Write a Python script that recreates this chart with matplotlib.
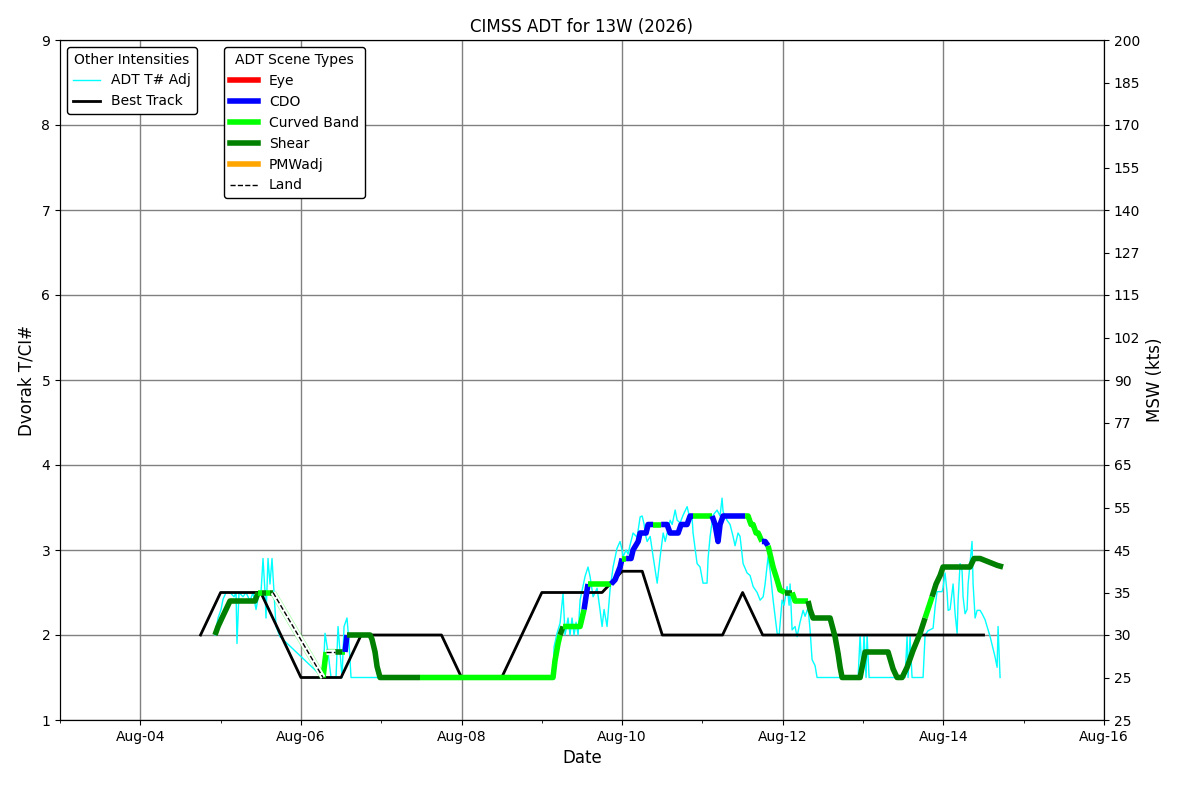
import matplotlib
matplotlib.use("Agg")
import matplotlib.pyplot as plt
import matplotlib.dates as mdates
from matplotlib.lines import Line2D
from datetime import datetime
import numpy as np

title = "CIMSS ADT for 13W (2026)"

# Best track (day of Aug 2026, T#)
bt_day = [4.75, 5.0, 5.25, 5.5, 5.75, 6.0, 6.25, 6.5, 6.75, 7.0, 7.25, 7.5, 7.75,
          8.0, 8.25, 8.5, 8.75, 9.0, 9.25, 9.5, 9.75, 10.0, 10.25, 10.5, 10.75,
          11.0, 11.25, 11.5, 11.75, 12.0, 12.25, 12.5, 12.75, 13.0, 13.25, 13.5,
          13.75, 14.0, 14.25, 14.5]
bt_ci = [2.0, 2.5, 2.5, 2.5, 2.0, 1.5, 1.5, 1.5, 2.0, 2.0, 2.0, 2.0, 2.0,
         1.5, 1.5, 1.5, 2.0, 2.5, 2.5, 2.5, 2.5, 2.75, 2.75, 2.0, 2.0,
         2.0, 2.0, 2.5, 2.0, 2.0, 2.0, 2.0, 2.0, 2.0, 2.0, 2.0,
         2.0, 2.0, 2.0, 2.0]

# ADT CI# (day of Aug 2026), scene of the segment ending at each point
adt_day = [4.930, 4.968, 5.017, 5.067, 5.117, 5.428, 5.468, 5.516, 5.565, 5.615,
           5.653, 6.275, 6.313, 6.425, 6.512, 6.549, 6.574, 6.861, 6.885, 6.923,
           6.948, 6.985, 7.483, 9.139, 9.164, 9.202, 9.227, 9.264, 9.476, 9.501,
           9.526, 9.550, 9.575, 9.862, 9.912, 9.974, 9.999, 10.049, 10.111, 10.136,
           10.199, 10.224, 10.298, 10.323, 10.386, 10.486, 10.559, 10.597, 10.697, 10.734,
           10.808, 10.846, 10.883, 11.120, 11.157, 11.194, 11.219, 11.257, 11.531, 11.568,
           11.605, 11.630, 11.668, 11.694, 11.740, 11.780, 11.817, 11.879, 11.929, 11.966,
           12.029, 12.116, 12.153, 12.315, 12.340, 12.377, 12.589, 12.651, 12.689, 12.714,
           12.739, 12.963, 13.025, 13.311, 13.374, 13.423, 13.486, 13.548, 13.623, 13.710,
           13.772, 13.859, 13.909, 13.959, 13.996, 14.332, 14.382, 14.457, 14.669, 14.743]
adt_ci = [2.0, 2.1, 2.2, 2.3, 2.4, 2.4, 2.5, 2.5, 2.5, 2.5,
          2.5, 1.5, 1.8, 1.8, 1.8, 1.8, 2.0, 2.0, 1.95, 1.8,
          1.63, 1.5, 1.5, 1.5, 1.7, 1.9, 2.0, 2.1, 2.1, 2.2,
          2.3, 2.45, 2.6, 2.6, 2.65, 2.8, 2.9, 2.9, 2.9, 3.0,
          3.1, 3.2, 3.2, 3.3, 3.3, 3.3, 3.3, 3.2, 3.2, 3.3,
          3.3, 3.4, 3.4, 3.4, 3.3, 3.1, 3.3, 3.4, 3.4, 3.4,
          3.3, 3.3, 3.2, 3.2, 3.1, 3.1, 3.05, 2.8, 2.65, 2.53,
          2.5, 2.5, 2.4, 2.4, 2.3, 2.2, 2.2, 1.98, 1.78, 1.62,
          1.5, 1.5, 1.8, 1.8, 1.6, 1.5, 1.5, 1.62, 1.82, 2.02,
          2.2, 2.45, 2.6, 2.7, 2.8, 2.8, 2.9, 2.9, 2.82, 2.8]
adt_scene = ["Shear", "Shear", "Shear", "Shear", "Shear", "Shear", "Shear", "Curved Band", "Shear", "Curved Band",
             "Shear", "Land", "Curved Band", "Land", "Shear", "Curved Band", "CDO", "Shear", "Shear", "Shear",
             "Shear", "Shear", "Shear", "Curved Band", "Curved Band", "Curved Band", "Curved Band", "Shear", "Curved Band", "Curved Band",
             "Curved Band", "CDO", "CDO", "Curved Band", "CDO", "CDO", "CDO", "Curved Band", "CDO", "CDO",
             "CDO", "CDO", "CDO", "CDO", "CDO", "Curved Band", "CDO", "CDO", "CDO", "CDO",
             "CDO", "CDO", "CDO", "Curved Band", "CDO", "CDO", "CDO", "CDO", "CDO", "Curved Band",
             "Curved Band", "Curved Band", "Curved Band", "Curved Band", "Curved Band", "CDO", "CDO", "Curved Band", "Curved Band", "Curved Band",
             "Curved Band", "Shear", "Curved Band", "Curved Band", "Shear", "Shear", "Shear", "Shear", "Shear", "Shear",
             "Shear", "Shear", "Shear", "Shear", "Shear", "Shear", "Shear", "Shear", "Shear", "Shear",
             "Shear", "Curved Band", "Shear", "Shear", "Shear", "Shear", "Shear", "Shear", "Shear", "Shear"]

# ADT T# Adj (raw)
raw_day = [4.930, 4.968, 5.005, 5.030, 5.067, 5.117, 5.167, 5.192, 5.204, 5.229,
           5.279, 5.316, 5.366, 5.403, 5.441, 5.478, 5.503, 5.528, 5.553, 5.565,
           5.590, 5.615, 5.640, 5.665, 5.690, 5.740, 6.275, 6.300, 6.337, 6.375,
           6.437, 6.462, 6.487, 6.512, 6.537, 6.574, 6.599, 6.624, 9.139, 9.152,
           9.189, 9.227, 9.264, 9.289, 9.326, 9.351, 9.376, 9.401, 9.426, 9.451,
           9.476, 9.538, 9.575, 9.600, 9.638, 9.688, 9.725, 9.750, 9.775, 9.812,
           9.849, 9.887, 9.936, 9.974, 9.999, 10.011, 10.049, 10.074, 10.099, 10.136,
           10.186, 10.224, 10.249, 10.274, 10.286, 10.311, 10.349, 10.386, 10.436, 10.473,
           10.511, 10.536, 10.573, 10.598, 10.623, 10.660, 10.685, 10.722, 10.759, 10.809,
           10.834, 10.871, 10.883, 10.933, 10.970, 11.007, 11.057, 11.070, 11.095, 11.132,
           11.182, 11.219, 11.244, 11.257, 11.306, 11.344, 11.381, 11.406, 11.443, 11.468,
           11.506, 11.556, 11.593, 11.631, 11.681, 11.718, 11.756, 11.780, 11.817, 11.843,
           11.880, 11.930, 11.955, 11.991, 12.016, 12.054, 12.079, 12.091, 12.116, 12.153,
           12.178, 12.215, 12.253, 12.278, 12.315, 12.340, 12.365, 12.402, 12.427, 12.938,
           12.963, 12.988, 13.012, 13.037, 13.050, 13.075, 13.523, 13.548, 13.560, 13.585,
           13.610, 13.747, 13.772, 13.809, 13.872, 13.897, 13.921, 13.984, 13.996, 14.021,
           14.046, 14.059, 14.083, 14.121, 14.146, 14.171, 14.183, 14.208, 14.233, 14.245,
           14.270, 14.295, 14.308, 14.332, 14.357, 14.370, 14.395, 14.420, 14.457, 14.482,
           14.519, 14.582, 14.644, 14.669, 14.681, 14.706]
raw_t = [2.0, 2.2, 2.3, 2.42, 2.5, 2.5, 2.45, 2.5, 1.9, 2.5,
         2.45, 2.5, 2.4, 2.5, 2.3, 2.5, 2.5, 2.9, 2.5, 2.2,
         2.9, 2.6, 2.9, 2.5, 2.1, 1.98, 1.5, 2.02, 1.8, 1.5,
         1.5, 2.1, 1.8, 1.5, 2.1, 2.2, 1.9, 1.5, 1.5, 1.86,
         2.02, 2.14, 2.49, 2.0, 2.2, 2.0, 2.2, 2.0, 2.15, 2.0,
         2.41, 2.69, 2.8, 2.69, 2.45, 2.55, 2.29, 2.1, 2.3, 2.1,
         2.53, 2.8, 3.02, 3.1, 3.0, 2.92, 3.0, 2.95, 3.06, 3.2,
         3.15, 3.39, 3.4, 3.3, 3.2, 3.1, 3.16, 2.92, 2.61, 2.92,
         3.2, 3.1, 3.25, 3.35, 3.3, 3.47, 3.35, 3.32, 3.41, 3.51,
         3.41, 3.38, 3.2, 2.84, 2.8, 2.61, 2.61, 2.9, 3.16, 3.41,
         3.47, 3.4, 3.61, 3.45, 3.35, 3.3, 3.16, 3.05, 3.2, 3.16,
         2.84, 2.73, 2.7, 2.57, 2.5, 2.41, 2.45, 2.6, 2.92, 2.75,
         2.41, 2.02, 2.0, 2.41, 2.35, 2.57, 2.35, 2.6, 2.06, 2.1,
         1.98, 2.15, 2.29, 2.22, 2.32, 2.06, 1.71, 1.64, 1.5, 1.5,
         2.0, 1.5, 2.0, 1.5, 2.0, 1.5, 1.5, 1.98, 1.5, 1.98,
         1.5, 1.5, 2.0, 2.05, 2.08, 2.33, 2.51, 2.51, 2.56, 2.73,
         2.5, 2.29, 2.3, 2.6, 2.25, 2.02, 2.4, 2.84, 2.75, 2.45,
         2.25, 2.3, 2.6, 2.84, 3.1, 2.6, 2.2, 2.29, 2.29, 2.25,
         2.18, 1.98, 1.74, 1.62, 2.1, 1.5]

msw_ticks = [1, 1.5, 2, 2.5, 3, 3.5, 4, 4.5, 5, 5.5, 6, 6.5, 7, 7.5, 8, 8.5, 9]
msw_labels = ["25", "25", "30", "35", "45", "55", "65", "77", "90", "102",
              "115", "127", "140", "155", "170", "185", "200"]

scene_colors = {"Eye": "red", "CDO": "blue", "Curved Band": "lime",
                "Shear": "green", "PMWadj": "orange"}

base = mdates.date2num(datetime(2026, 8, 1))


def to_num(days):
    return base + (np.asarray(days, dtype=float) - 1.0)


plt.rcParams["font.family"] = ["DejaVu Sans"]
plt.rcParams["legend.edgecolor"] = "black"
plt.rcParams["legend.framealpha"] = 1.0

fig = plt.figure(figsize=(12, 8), dpi=100)
ax = fig.add_axes([0.05, 0.1, 0.87, 0.85])

ax.grid(True, which="major", color="gray", lw=1, zorder=0)
ax.set_axisbelow(True)

# Best track
ax.plot(to_num(bt_day), bt_ci, color="black", lw=2, zorder=3)
# ADT T# adj
ax.plot(to_num(raw_day), raw_t, color="cyan", lw=1, zorder=2)

# ADT CI# coloured by scene type
x = to_num(adt_day)
y = np.asarray(adt_ci)
n = len(adt_day)
i = 1
while i < n:
    s = adt_scene[i]
    j = i
    while j + 1 < n and adt_scene[j + 1] == s:
        j += 1
    xs = x[i - 1:j + 1]
    ys = y[i - 1:j + 1]
    if s == "Land":
        ax.plot(xs, ys, color="lime", lw=4.6, alpha=0.4, zorder=4, solid_capstyle="butt")
        ax.plot(xs, ys, color="white", lw=3.8, zorder=4.1, solid_capstyle="butt")
        ax.plot(xs, ys, color="black", lw=1, ls="--", zorder=4.2)
    else:
        ax.plot(xs, ys, color=scene_colors[s], lw=4, zorder=4,
                solid_capstyle="butt", solid_joinstyle="round")
    i = j + 1

ax.set_xlim(to_num(3), to_num(16))
ax.set_ylim(1, 9)
ax.set_yticks(range(1, 10))
ax.xaxis.set_major_locator(mdates.DayLocator(bymonthday=range(2, 32, 2)))
ax.xaxis.set_minor_locator(mdates.DayLocator())
ax.xaxis.set_major_formatter(mdates.DateFormatter("%b-%d"))
ax.tick_params(labelsize=10)

ax.set_xlabel("Date", fontsize=12)
ax.set_ylabel("Dvorak T/CI#", fontsize=12)
ax.set_title(title, fontsize=12)

ax2 = ax.twinx()
ax2.set_ylim(1, 9)
ax2.set_yticks(msw_ticks)
ax2.set_yticklabels(msw_labels)
ax2.tick_params(labelsize=10)
ax2.set_ylabel("MSW (kts)", fontsize=12)

h1 = [Line2D([], [], color="cyan", lw=1), Line2D([], [], color="black", lw=2)]
leg1 = ax2.legend(h1, ["ADT T# Adj", "Best Track"], title="Other Intensities",
                  loc="upper left", fontsize=10, title_fontsize=10)
ax2.add_artist(leg1)
h2 = [Line2D([], [], color=scene_colors[k], lw=4) for k in ["Eye", "CDO", "Curved Band", "Shear", "PMWadj"]]
h2.append(Line2D([], [], color="black", lw=1, ls="--"))
ax2.legend(h2, ["Eye", "CDO", "Curved Band", "Shear", "PMWadj", "Land"],
           title="ADT Scene Types", loc="upper left",
           bbox_to_anchor=(0.1575, 0.9893), borderaxespad=0,
           fontsize=10, title_fontsize=10)

fig.savefig("out.png", dpi=100)
